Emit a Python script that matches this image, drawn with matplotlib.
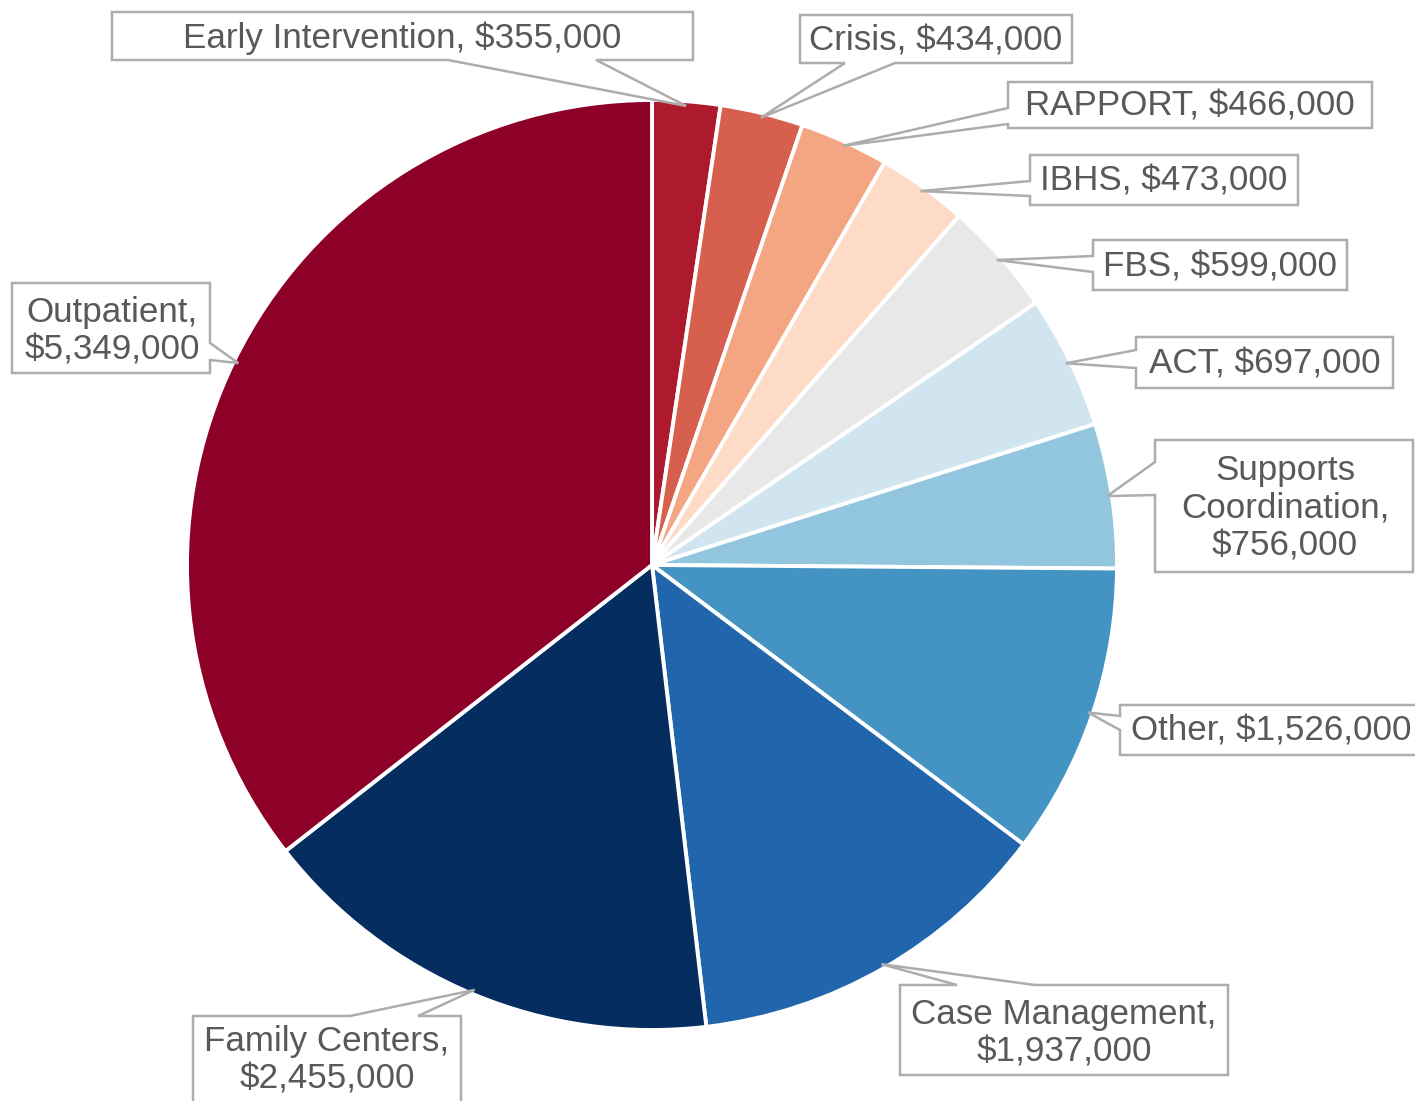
import matplotlib
matplotlib.use("Agg")
import matplotlib.pyplot as plt
from matplotlib.patches import Polygon
import numpy as np

# ---------------- data ----------------
categories = ["Early Intervention", "Crisis", "RAPPORT", "IBHS", "FBS", "ACT",
              "Supports Coordination", "Other", "Case Management",
              "Family Centers", "Outpatient"]
values = [355000, 434000, 466000, 473000, 599000, 697000, 756000,
          1526000, 1937000, 2455000, 5349000]
colors = ["#AE1A2D", "#D6604D", "#F4A582", "#FDDBC7", "#E8E8E8", "#D1E5F0",
          "#92C5DE", "#4393C3", "#2166AC", "#062D5F", "#8D0027"]

# ---------------- layout (pixel coords, origin top-left) ----------------
W, H = 1415, 1101
CX, CY, R = 652, 565, 465
display_names = ["Early Intervention", "Crisis", "RAPPORT", "IBHS", "FBS", "ACT",
                 "Supports\nCoordination", "Other", "Case Management",
                 "Family Centers", "Outpatient"]
separators = [", ", ", ", ", ", ", ", ", ", ", ", ",\n", ", ", ",\n", ",\n", ",\n"]
boxes = [(112, 12, 693, 60), (800, 15, 1072, 63), (1008, 82, 1372, 128),
         (1030, 155, 1298, 205), (1093, 240, 1347, 290), (1136, 337, 1393, 388),
         (1155, 440, 1413, 572), (1120, 705, 1445, 755), (900, 985, 1228, 1075),
         (193, 1016, 461, 1125), (12, 283, 210, 373)]
text_pos = [(402, 38, "center"), (936, 41, "center"), (1190, 106, "center"),
            (1164, 181, "center"), (1220, 267, "center"), (1265, 364, "center"),
            (1285, 508, "center"), (1131, 731, "left"), (1064, 1033, "center"),
            (327, 1060, "center"), (112, 331, "center")]
sides = ["bottom", "bottom", "left", "left", "left", "left", "left", "left",
         "top", "top", "right"]
bases = [(448, 596), (845, 895), (108, 124), (181, 196), (256, 272), (350, 368),
         (462, 495), (716, 730), (957, 1035), (350, 418), (343, 360)]

TEXT_COLOR = "#595959"
EDGE_COLOR = "#ADADAD"

fig = plt.figure(figsize=(W / 100, H / 100), dpi=100)
ax = fig.add_axes([0, 0, 1, 1])


def fy(y):
    return H - y


wedges, _ = ax.pie(values, colors=colors, startangle=90, counterclock=False,
                   center=(CX, fy(CY)), radius=R, frame=True,
                   wedgeprops=dict(edgecolor="white", linewidth=2.8))
ax.set_xlim(0, W)
ax.set_ylim(0, H)
ax.set_aspect("equal")
ax.axis("off")

for i, w in enumerate(wedges):
    th = np.deg2rad((w.theta1 + w.theta2) / 2)
    cx, cy = w.center
    tip = (cx + w.r * 0.99 * np.cos(th), cy + w.r * 0.99 * np.sin(th))
    x0, y0, x1, y1 = boxes[i]
    a, b = bases[i]
    s = sides[i]
    pts = [(x0, y0)]
    if s == "top":
        pts += [(a, y0), "T", (b, y0)]
    pts += [(x1, y0)]
    if s == "right":
        pts += [(x1, a), "T", (x1, b)]
    pts += [(x1, y1)]
    if s == "bottom":
        pts += [(b, y1), "T", (a, y1)]
    pts += [(x0, y1)]
    if s == "left":
        pts += [(x0, b), "T", (x0, a)]
    verts = [tip if p == "T" else (p[0], fy(p[1])) for p in pts]
    poly = Polygon(verts, closed=True, facecolor="white", edgecolor=EDGE_COLOR,
                   linewidth=1.8, zorder=5)
    ax.add_patch(poly)
    tx, ty, ha = text_pos[i]
    label = f"{display_names[i]}{separators[i]}${values[i]:,}"
    ax.text(tx, fy(ty), label, ha=ha, va="center", fontsize=25.2,
            family="Liberation Sans", color=TEXT_COLOR, linespacing=1.19,
            zorder=6)

fig.savefig("out.png", dpi=100, facecolor="white")
